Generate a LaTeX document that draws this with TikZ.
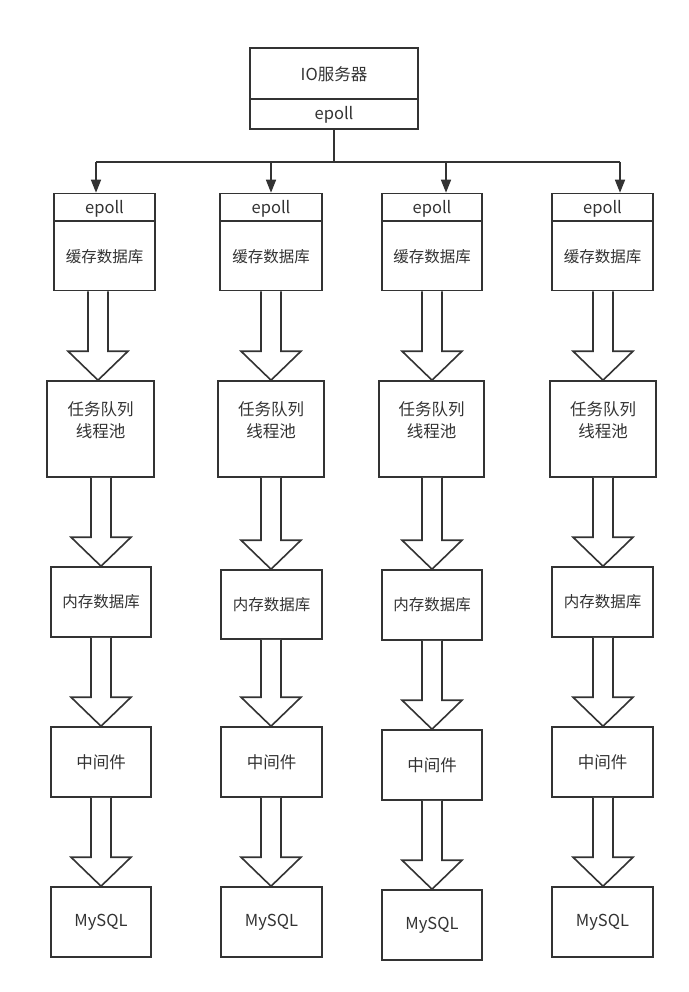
\documentclass[tikz,border=0pt]{standalone}
\usepackage{fontspec}
\setmainfont{Noto Sans CJK SC}
\usetikzlibrary{calc,arrows.meta}
\definecolor{ink}{HTML}{333333}
\tikzset{
  box/.style={draw=ink, line width=1.6pt, fill=white, inner sep=0pt},
  lbl/.style={text=ink, inner sep=0pt, font=\fontsize{15.5}{18}\selectfont},
  lblb/.style={text=ink, inner sep=0pt, font=\fontsize{16.5}{22}\selectfont, align=center},
  conn/.style={draw=ink, line width=1.6pt},
  harr/.style={draw=ink, line width=1.6pt, fill=white, line join=miter},
}
% box by corners: name, left, right, top, bottom
\newcommand\mkbox[5]{\node[box, minimum width={#3-#2}, minimum height={#5-#4}] (#1) at ({(#2+#3)/2},{(#4+#5)/2}) {};}
% hollow arrow: x, from node, to node
\newcommand\harrow[3]{\draw[harr] let \p1=(#2.south), \p2=(#3.north) in
  (#1-10,0 |- 0,\y1) -- ($(#1-10,0 |- 0,\y2)+(0,29pt)$) -- ($(#1-30,0 |- 0,\y2)+(0,29pt)$) -- (#1,0 |- 0,\y2)
  -- ($(#1+30,0 |- 0,\y2)+(0,29pt)$) -- ($(#1+10,0 |- 0,\y2)+(0,29pt)$) -- (#1+10,0 |- 0,\y1);}
\begin{document}
\begin{tikzpicture}[x=1pt, y=-1pt]
\useasboundingbox (0,0) rectangle (688,992);
\fill[white] (0,0) rectangle (688,992);

% top IO server
\mkbox{io}{250}{418}{48}{129}
\draw[conn] (io.west |- 0,99) -- (io.east |- 0,99);
\node[lblb] (iot) at (334,74) {IO服务器};
\node[lblb] (iop) at (334,115) {epoll};

% column data: epoll/cache boxes
\mkbox{c1}{54}{155}{193.5}{290.5}
\mkbox{c2}{220}{322}{193.5}{290.5}
\mkbox{c3}{382}{482}{193.5}{290.5}
\mkbox{c4}{552}{653}{193.5}{290.5}
\foreach \i/\cx in {1/104.5,2/271,3/432,4/602.5}{
  \draw[conn] (c\i.west |- 0,221) -- (c\i.east |- 0,221);
  \node[lblb] (e\i) at (\cx,208.5) {epoll};
  \node[lbl] (k\i) at (\cx,257) {缓存数据库};
}

% task queue boxes
\mkbox{t1}{47}{154}{381}{477}
\mkbox{t2}{218}{324}{381}{477}
\mkbox{t3}{379}{484}{381}{477}
\mkbox{t4}{550}{656}{381}{477}
\foreach \i/\cx in {1/100.5,2/271,3/431.5,4/603}{
  \node[lblb] (tt\i) at (\cx,420) {任务队列\\线程池};
}

% memory db
\mkbox{m1}{51}{151}{567}{637}
\mkbox{m2}{221}{322}{570}{639}
\mkbox{m3}{382}{482}{570}{640}
\mkbox{m4}{552}{653}{567}{637}
\foreach \i in {1,...,4}{\node[lbl] (mt\i) at (m\i) {内存数据库};}

% middleware
\mkbox{w1}{51}{151}{727}{797}
\mkbox{w2}{221}{322}{727}{797}
\mkbox{w3}{382}{482}{730}{800}
\mkbox{w4}{552}{653}{727}{797}
\foreach \i in {1,...,4}{\node[lblb] (wt\i) at (w\i) {中间件};}

% MySQL
\mkbox{s1}{51}{151}{887}{957}
\mkbox{s2}{221}{322}{887}{957}
\mkbox{s3}{382}{482}{890}{960}
\mkbox{s4}{552}{653}{887}{957}
\foreach \i in {1,...,4}{\node[lblb] (st\i) at (s\i) {MySQL};}

% branching connectors
\coordinate (jt) at (334,162);
\coordinate (j1) at (96,162);
\coordinate (j2) at (271,162);
\coordinate (j3) at (446,162);
\coordinate (j4) at (620,162);
\draw[conn] (io.south -| jt) -- (jt);
\draw[conn] (j1) -- (j4);
\foreach \i in {1,...,4}{
  \draw[conn, -{Triangle[length=13pt,width=10pt]}] (j\i) -- (j\i |- c\i.north);
}

% hollow arrows
\harrow{98}{c1}{t1}
\harrow{101}{t1}{m1}
\harrow{101}{m1}{w1}
\harrow{101}{w1}{s1}
\harrow{271}{c2}{t2}
\harrow{271}{t2}{m2}
\harrow{271}{m2}{w2}
\harrow{271}{w2}{s2}
\harrow{432}{c3}{t3}
\harrow{432}{t3}{m3}
\harrow{432}{m3}{w3}
\harrow{432}{w3}{s3}
\harrow{603}{c4}{t4}
\harrow{603}{t4}{m4}
\harrow{603}{m4}{w4}
\harrow{603}{w4}{s4}
\end{tikzpicture}
\end{document}
